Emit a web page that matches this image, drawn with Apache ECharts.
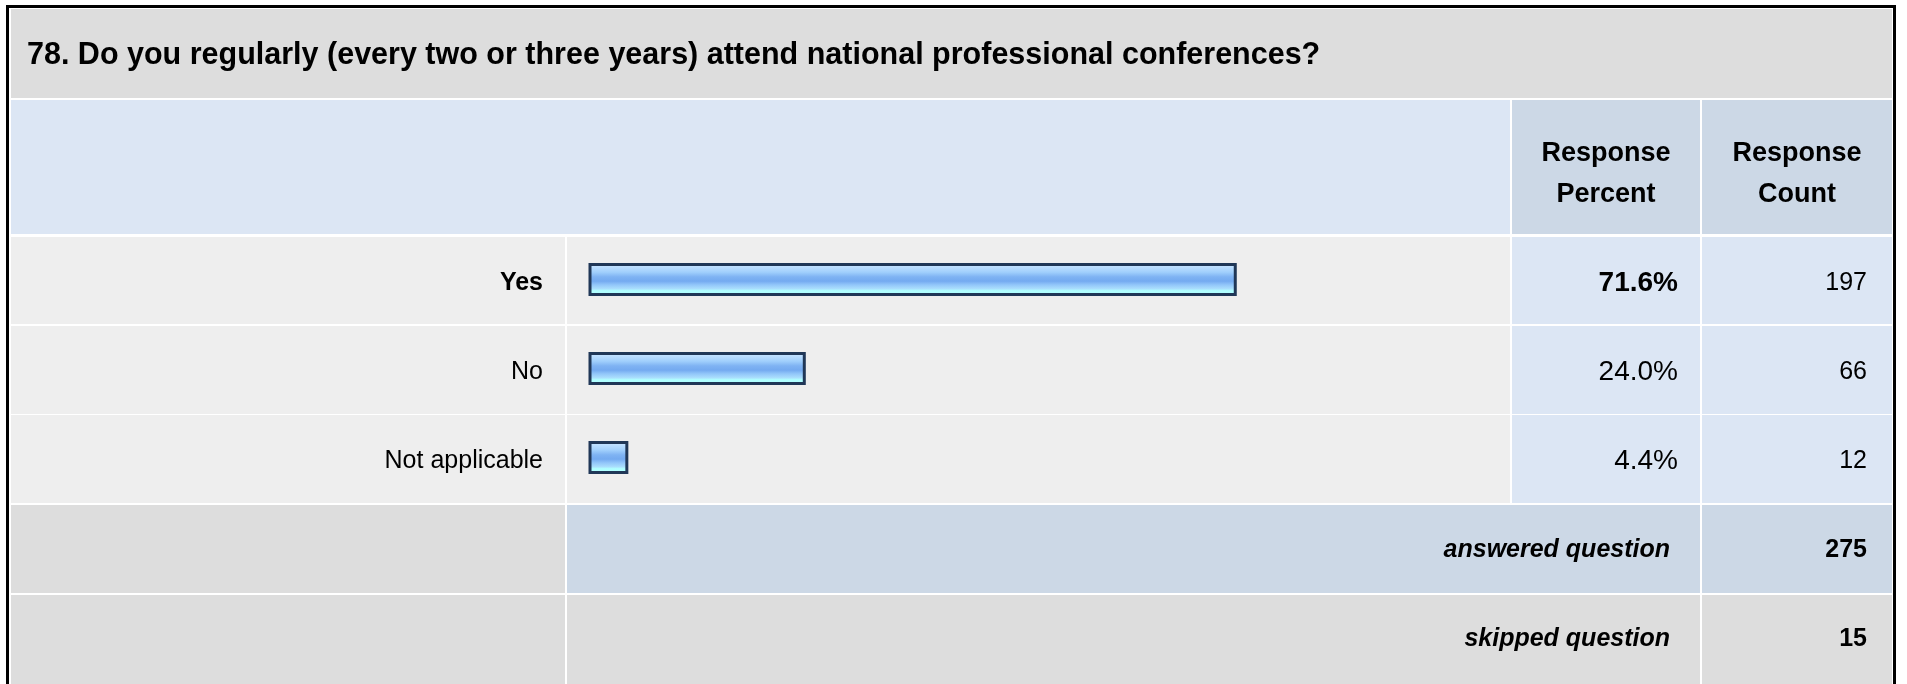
<!DOCTYPE html>
<html>
<head>
<meta charset="utf-8">
<script src="https://cdn.jsdelivr.net/npm/echarts@6/dist/echarts.min.js"></script>
<style>
html,body{margin:0;padding:0;background:#fff;}
#chart{width:1907px;height:684px;}
</style>
</head>
<body>
<div id="chart"></div>
<script>
// ---- data ----
const questionTitle = '78. Do you regularly (every two or three years) attend national professional conferences?';
const headerPercent = 'Response\nPercent';
const headerCount = 'Response\nCount';
const categories = ['Yes', 'No', 'Not applicable'];
const percentValues = [71.6, 24.0, 4.4];
const responseCounts = [197, 66, 12];
const summaryLabels = ['answered question', 'skipped question'];
const summaryValues = [275, 15];

// ---- styles ----
const FONT = '"Liberation Sans", Arial, Helvetica, sans-serif';
const C_TITLE = '#dddddd';
const C_ROW = '#eeeeee';
const C_LBLUE = '#dce6f4';
const C_DBLUE = '#ccd8e6';

const maxIdx = percentValues.indexOf(Math.max.apply(null, percentValues));

const chart = echarts.init(document.getElementById('chart'), null, {renderer: 'canvas'});

function rect(x1, y1, x2, y2, fill) {
  return {type: 'rect', z: -10, silent: true,
    shape: {x: x1, y: y1, width: x2 - x1, height: y2 - y1},
    style: {fill: fill}};
}
function txt(x, y, text, opts) {
  return {type: 'text', z: 10, silent: true, x: x, y: y,
    style: Object.assign({text: text, fill: '#000', fontFamily: FONT}, opts)};
}

// table layout (pixel layout of the cells, not data)
const colL = [11, 565], colB = [567, 1510], colP = [1512, 1700], colC = [1702, 1892];
const rowsY = [[237, 324], [326, 414], [415, 503]];
const ansY = [505, 593], skpY = [595, 690];
const summaryCY = [550, 639];

const graphics = [];
graphics.push({type: 'rect', z: -9, silent: true,
  shape: {x: 7.5, y: 6.5, width: 1887, height: 720},
  style: {fill: 'none', stroke: '#000', lineWidth: 3}});
graphics.push(rect(11, 9, 1892, 98, C_TITLE));
graphics.push(rect(11, 100, 1510, 234, C_LBLUE));
graphics.push(rect(colP[0], 100, colP[1], 234, C_DBLUE));
graphics.push(rect(colC[0], 100, colC[1], 234, C_DBLUE));
rowsY.forEach(r => {
  graphics.push(rect(colL[0], r[0], colL[1], r[1], C_ROW));
  graphics.push(rect(colB[0], r[0], colB[1], r[1], C_ROW));
  graphics.push(rect(colP[0], r[0], colP[1], r[1], C_LBLUE));
  graphics.push(rect(colC[0], r[0], colC[1], r[1], C_LBLUE));
});
graphics.push(rect(colL[0], ansY[0], colL[1], ansY[1], C_TITLE));
graphics.push(rect(colB[0], ansY[0], colP[1], ansY[1], C_DBLUE));
graphics.push(rect(colC[0], ansY[0], colC[1], ansY[1], C_DBLUE));
graphics.push(rect(colL[0], skpY[0], colL[1], skpY[1], C_TITLE));
graphics.push(rect(colB[0], skpY[0], colP[1], skpY[1], C_TITLE));
graphics.push(rect(colC[0], skpY[0], colC[1], skpY[1], C_TITLE));

graphics.push(txt(27, 56, questionTitle, {fontSize: 30.5, fontWeight: 'bold', textVerticalAlign: 'middle'}));
graphics.push(txt((colP[0] + colP[1]) / 2, 174, headerPercent, {fontSize: 27, fontWeight: 'bold', textAlign: 'center', textVerticalAlign: 'middle', lineHeight: 41}));
graphics.push(txt((colC[0] + colC[1]) / 2, 174, headerCount, {fontSize: 27, fontWeight: 'bold', textAlign: 'center', textVerticalAlign: 'middle', lineHeight: 41}));
summaryLabels.forEach((lab, i) => {
  const cy = summaryCY[i];
  graphics.push(txt(1670, cy, lab, {fontSize: 25, fontWeight: 'bold', fontStyle: 'italic', textAlign: 'right', textVerticalAlign: 'middle'}));
  graphics.push(txt(1867, cy, String(summaryValues[i]), {fontSize: 25, fontWeight: 'bold', textAlign: 'right', textVerticalAlign: 'middle'}));
});

const gridLeft = 588.5, gridWidth = 905.4;
const LBL_PAD = [8, 0, 0, 0];

const option = {
  animation: false,
  backgroundColor: '#fff',
  grid: {left: gridLeft, width: gridWidth, top: 235, height: 267, outerBoundsMode: 'none', containLabel: false},
  xAxis: {type: 'value', min: 0, max: 100, show: false},
  yAxis: [
    {type: 'category', data: categories, inverse: true,
      axisLine: {show: false}, axisTick: {show: false}, splitLine: {show: false},
      axisLabel: {margin: 45.5, padding: LBL_PAD, fontFamily: FONT, fontSize: 25, color: '#000',
        formatter: (v, i) => (i === maxIdx ? '{b|' + v + '}' : '{n|' + v + '}'),
        rich: {b: {fontFamily: FONT, fontSize: 25, fontWeight: 'bold', color: '#000'},
               n: {fontFamily: FONT, fontSize: 25, color: '#000'}}}},
    {type: 'category', data: categories, inverse: true, position: 'right',
      axisLine: {show: false}, axisTick: {show: false}, splitLine: {show: false},
      axisLabel: {margin: 1678 - (gridLeft + gridWidth), padding: LBL_PAD, align: 'right', fontFamily: FONT, fontSize: 28, color: '#000',
        formatter: (v, i) => {
          const s = percentValues[i].toFixed(1) + '%';
          return i === maxIdx ? '{b|' + s + '}' : '{n|' + s + '}';
        },
        rich: {b: {fontFamily: FONT, fontSize: 28, fontWeight: 'bold', color: '#000'},
               n: {fontFamily: FONT, fontSize: 28, color: '#000'}}}},
    {type: 'category', data: categories, inverse: true, position: 'right',
      axisLine: {show: false}, axisTick: {show: false}, splitLine: {show: false},
      axisLabel: {margin: 1867 - (gridLeft + gridWidth), padding: LBL_PAD, align: 'right', fontFamily: FONT, fontSize: 25, color: '#000',
        formatter: (v, i) => '{n|' + responseCounts[i] + '}',
        rich: {n: {fontFamily: FONT, fontSize: 25, color: '#000'}}}}
  ],
  series: [{
    type: 'bar', yAxisIndex: 0, data: percentValues, barWidth: 33,
    itemStyle: {
      borderColor: '#203757', borderWidth: 3,
      color: new echarts.graphic.LinearGradient(0, 0, 0, 1, [
        {offset: 0, color: '#d2ebff'},
        {offset: 0.12, color: '#bcdeff'},
        {offset: 0.28, color: '#a0cffc'},
        {offset: 0.42, color: '#7fb3f3'},
        {offset: 0.55, color: '#74aaf0'},
        {offset: 0.66, color: '#92c6f9'},
        {offset: 0.78, color: '#aadefd'},
        {offset: 0.84, color: '#b0ffff'},
        {offset: 1, color: '#b0ffff'}
      ])
    },
    silent: true
  }],
  graphic: {elements: graphics}
};
chart.setOption(option);
</script>
</body>
</html>
